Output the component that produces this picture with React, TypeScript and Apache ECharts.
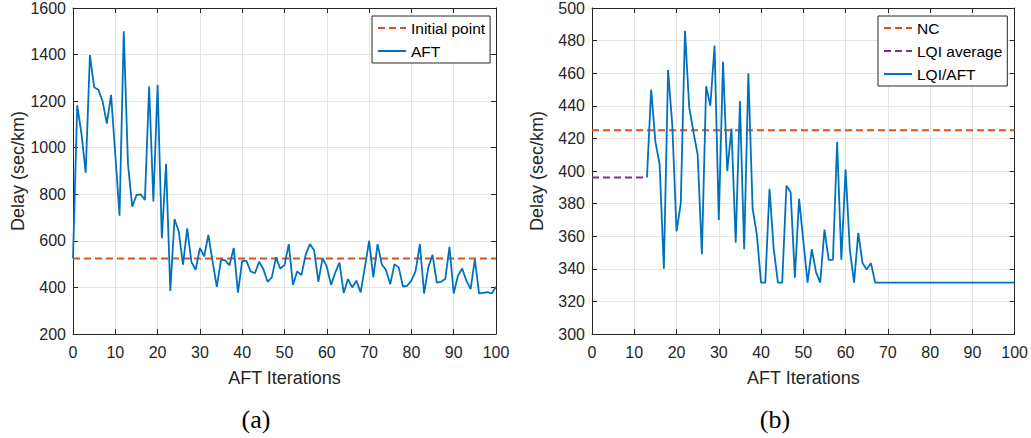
import React, { useEffect, useRef } from "react";
import * as echarts from "echarts";

// ---------- data ----------
const aftDelay = [
  524, 1182, 1060, 893, 1398, 1260, 1249, 1199, 1104, 1227,
  972, 708, 1500, 929, 747, 796, 800, 776, 1263, 769,
  1270, 611, 931, 385, 694, 641, 498, 654, 509, 476,
  570, 533, 626, 512, 402, 519, 516, 495, 570, 378,
  514, 514, 469, 461, 510, 479, 424, 443, 529, 481,
  496, 586, 411, 469, 453, 540, 586, 560, 424, 526,
  489, 411, 464, 507, 376, 436, 400, 429, 379, 486,
  600, 443, 586, 500, 474, 414, 500, 486, 404, 407,
  429, 471, 586, 374, 486, 540, 421, 424, 436, 574,
  374, 450, 481, 429, 393, 521, 374, 377, 380, 374,
  403,
];
const initialPointDelay = 524;

const ncDelay = 425;
const lqiAverageDelay = 396;
const lqiStartIteration = 13;
const lqiAftDelay = [
  396, 450, 418, 404, 340, 462, 428, 363, 380, 486,
  439, 424, 410, 349, 452, 440, 477, 370, 467, 400,
  426, 356, 443, 352, 460, 377, 361, 331.5, 331.5, 389,
  352, 331.5, 331.5, 391, 387, 334.5, 383, 357, 331.5, 352,
  338, 331.5, 364, 345.5, 345.5, 418, 345.5, 401, 352, 331.5,
  362, 343.5, 339.5, 343.5,
  331.5, 331.5, 331.5, 331.5, 331.5, 331.5, 331.5, 331.5, 331.5, 331.5,
  331.5, 331.5, 331.5, 331.5, 331.5, 331.5, 331.5, 331.5, 331.5, 331.5,
  331.5, 331.5, 331.5, 331.5, 331.5, 331.5, 331.5, 331.5, 331.5, 331.5,
  331.5, 331.5, 331.5, 331.5,
];

const xMin = 0;
const xMax = 100;
const xInterval = 10;
const leftYMin = 200;
const leftYMax = 1600;
const leftYInterval = 200;
const rightYMin = 300;
const rightYMax = 500;
const rightYInterval = 20;

const xAxisTitle = "AFT Iterations";
const yAxisTitle = "Delay (sec/km)";
const captions = ["(a)", "(b)"];

// ---------- styles ----------
const FONT = '"Liberation Sans", Arial, Helvetica, sans-serif';
const SERIF = '"Liberation Serif", "DejaVu Serif", serif';
const AXIS = "#262626";
const GRID = "#e4e4e4";
const BLUE = "#0072BD";
const ORANGE = "#D95319";
const PURPLE = "#7E2F8E";
const DASH = [7, 4];

const plainNumber = (v: number) => String(v);

function mainX(gridIndex: number) {
  return {
    type: "value",
    gridIndex,
    min: xMin,
    max: xMax,
    interval: xInterval,
    position: "bottom",
    axisLine: { show: true, onZero: false, lineStyle: { color: AXIS, width: 1 } },
    axisTick: { show: true, inside: true, length: 5, lineStyle: { color: AXIS } },
    axisLabel: { color: AXIS, fontSize: 16, fontFamily: FONT, margin: 10, formatter: plainNumber },
    splitLine: { show: true, lineStyle: { color: GRID, width: 1 } },
    name: xAxisTitle,
    nameLocation: "middle",
    nameGap: 35,
    nameTextStyle: { color: AXIS, fontSize: 18, fontFamily: FONT },
  };
}
function topX(gridIndex: number) {
  return {
    type: "value",
    gridIndex,
    min: xMin,
    max: xMax,
    interval: xInterval,
    position: "top",
    axisLine: { show: true, onZero: false, lineStyle: { color: AXIS, width: 1 } },
    axisTick: { show: true, inside: true, length: 5, lineStyle: { color: AXIS } },
    axisLabel: { show: false },
    splitLine: { show: false },
  };
}
function mainY(gridIndex: number, min: number, max: number, interval: number) {
  return {
    type: "value",
    gridIndex,
    min,
    max,
    interval,
    position: "left",
    axisLine: { show: true, onZero: false, lineStyle: { color: AXIS, width: 1 } },
    axisTick: { show: true, inside: true, length: 5, lineStyle: { color: AXIS } },
    axisLabel: { color: AXIS, fontSize: 16, fontFamily: FONT, margin: 7, formatter: plainNumber },
    splitLine: { show: true, lineStyle: { color: GRID, width: 1 } },
    name: yAxisTitle,
    nameLocation: "middle",
    nameRotate: 90,
    nameGap: 46,
    nameTextStyle: { color: AXIS, fontSize: 18, fontFamily: FONT },
  };
}
function rightY(gridIndex: number, min: number, max: number, interval: number) {
  return {
    type: "value",
    gridIndex,
    min,
    max,
    interval,
    position: "right",
    axisLine: { show: true, onZero: false, lineStyle: { color: AXIS, width: 1 } },
    axisTick: { show: true, inside: true, length: 5, lineStyle: { color: AXIS } },
    axisLabel: { show: false },
    splitLine: { show: false },
  };
}

function lineSeries(
  name: string,
  xAxisIndex: number,
  yAxisIndex: number,
  data: number[][],
  color: string,
  dashed: boolean
) {
  return {
    name,
    type: "line",
    xAxisIndex,
    yAxisIndex,
    data,
    color,
    symbol: "none",
    showSymbol: false,
    lineStyle: { color, width: dashed ? 2 : 1.8, type: dashed ? DASH : "solid" },
    emphasis: { disabled: true },
  };
}

const legendBase = {
  orient: "vertical",
  top: 16,
  itemWidth: 28,
  itemHeight: 14,
  itemGap: 7,
  padding: [4, 5, 4, 5],
  borderColor: AXIS,
  borderWidth: 1,
  borderRadius: 0,
  backgroundColor: "#ffffff",
  itemStyle: { opacity: 0 },
  textStyle: { color: "#000", fontSize: 15.5, fontFamily: FONT },
  selectedMode: false,
};

function caption(text: string, x: number) {
  return {
    type: "text",
    x,
    y: 419,
    style: {
      text,
      fontSize: 26,
      fontFamily: SERIF,
      fill: "#000",
      align: "center",
      verticalAlign: "middle",
    },
  };
}

export default function App() {
  const ref = useRef<HTMLDivElement>(null);
  useEffect(() => {
    if (!ref.current) return;
    const chart = echarts.init(ref.current, null, { renderer: "svg" });
    const aftData = aftDelay.map((v, i) => [i, v]);
    const lqiData = lqiAftDelay.map((v, k) => [lqiStartIteration + k, v]);
    const option: any = {
      animation: false,
      backgroundColor: "#ffffff",
      grid: [
        { left: 73, top: 6, width: 423, height: 328 },
        { left: 592, top: 6, width: 423, height: 328 },
      ],
      xAxis: [mainX(0), topX(0), mainX(1), topX(1)],
      yAxis: [
        mainY(0, leftYMin, leftYMax, leftYInterval),
        rightY(0, leftYMin, leftYMax, leftYInterval),
        mainY(1, rightYMin, rightYMax, rightYInterval),
        rightY(1, rightYMin, rightYMax, rightYInterval),
      ],
      legend: [
        { ...legendBase, left: 372, data: ["Initial point", "AFT"] },
        { ...legendBase, left: 878, data: ["NC", "LQI average", "LQI/AFT"] },
      ],
      series: [
        lineSeries("Initial point", 0, 0, [[xMin, initialPointDelay], [xMax, initialPointDelay]], ORANGE, true),
        lineSeries("AFT", 0, 0, aftData, BLUE, false),
        lineSeries("NC", 2, 2, [[xMin, ncDelay], [xMax, ncDelay]], ORANGE, true),
        lineSeries("LQI average", 2, 2, [[xMin, lqiAverageDelay], [lqiStartIteration, lqiAverageDelay]], PURPLE, true),
        lineSeries("LQI/AFT", 2, 2, lqiData, BLUE, false),
      ],
      graphic: [caption(captions[0], 256), caption(captions[1], 775)],
    };
    chart.setOption(option);
    return () => chart.dispose();
  }, []);
  return (
    <div
      ref={ref}
      style={{ position: "absolute", left: 0, top: 0, width: 1031, height: 438, background: "#fff" }}
    />
  );
}
